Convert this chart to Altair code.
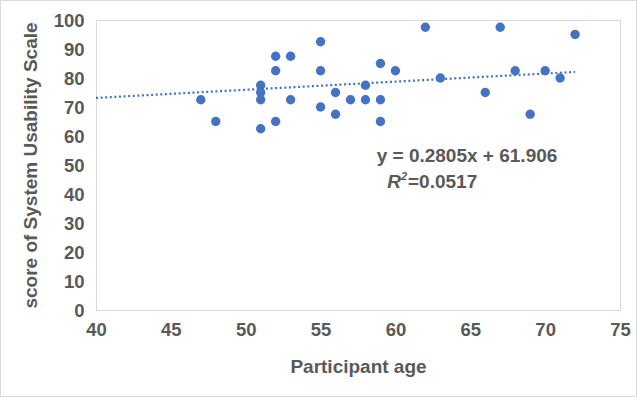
import altair as alt
import pandas as pd

# Participant ages and their System Usability Scale scores
ages = [47, 48, 51, 51, 51, 51, 52, 52, 52, 53, 53, 55, 55, 55, 56, 56,
        57, 58, 58, 59, 59, 59, 60, 62, 63, 66, 67, 68, 69, 70, 71, 72]
scores = [72.5, 65, 77.5, 75, 72.5, 62.5, 87.5, 82.5, 65, 87.5, 72.5, 92.5,
          82.5, 70, 75, 67.5, 72.5, 77.5, 72.5, 85, 72.5, 65, 82.5, 97.5,
          80, 75, 97.5, 82.5, 67.5, 82.5, 80, 95]

# Linear trend line reported on the chart
slope = 0.2805
intercept = 61.906
trend_x = [40, 72]

x_ticks = [40, 45, 50, 55, 60, 65, 70, 75]
y_ticks = [0, 10, 20, 30, 40, 50, 60, 70, 80, 90, 100]

points_df = pd.DataFrame({"age": ages, "score": scores})
trend_df = pd.DataFrame({"age": trend_x})

FONT = "Liberation Sans"
GREY = "#595959"
BLUE = "#4472C4"

x_enc = alt.X(
    "age:Q",
    scale=alt.Scale(domain=[40, 75], nice=False, zero=False),
    axis=alt.Axis(values=x_ticks, title="Participant age", grid=False,
                  ticks=False, domain=False, labelPadding=10,
                  titlePadding=19, labelFlush=False, labelOverlap=False),
)
y_enc = alt.Y(
    "score:Q",
    scale=alt.Scale(domain=[0, 100], nice=False),
    axis=alt.Axis(values=y_ticks, title="score of System Usability Scale",
                  grid=False, ticks=False, domain=False, labelPadding=12,
                  titlePadding=13, labelFlush=False, labelOverlap=False),
)

points = alt.Chart(points_df).mark_circle(
    size=88, color=BLUE, opacity=1
).encode(x=x_enc, y=y_enc)

trend = alt.Chart(trend_df).transform_calculate(
    score=f"{slope} * datum.age + {intercept}"
).mark_line(
    color=BLUE, strokeWidth=2.2, strokeDash=[2, 2.6], strokeCap="butt"
).encode(x=x_enc, y=y_enc)

eq_text = alt.Chart(pd.DataFrame({"t": [f"y = {slope}x + {intercept}"]})).mark_text(
    font=FONT, fontSize=19, fontWeight="bold", color=GREY, align="center",
    baseline="middle"
).encode(x=alt.value(371), y=alt.value(136), text="t:N")

r_text = alt.Chart(pd.DataFrame({"t": ["R"]})).mark_text(
    font=FONT, fontSize=19, fontWeight="bold", fontStyle="italic", color=GREY,
    align="right", baseline="middle"
).encode(x=alt.value(305), y=alt.value(162), text="t:N")

sup_text = alt.Chart(pd.DataFrame({"t": ["2"]})).mark_text(
    font=FONT, fontSize=11, fontWeight="bold", fontStyle="italic", color=GREY,
    align="left", baseline="middle"
).encode(x=alt.value(305), y=alt.value(157), text="t:N")

r2_text = alt.Chart(pd.DataFrame({"t": ["=0.0517"]})).mark_text(
    font=FONT, fontSize=19, fontWeight="bold", color=GREY, align="left",
    baseline="middle"
).encode(x=alt.value(312), y=alt.value(162), text="t:N")

# Light frame around the whole chart
frame = alt.Chart(pd.DataFrame({"k": [0]})).mark_rect(
    fill=None, stroke="#D9D9D9", strokeWidth=1, clip=False
).encode(x=alt.value(-95.5), x2=alt.value(540.5),
         y=alt.value(-19.5), y2=alt.value(376.5))

chart = alt.layer(frame, trend, points, eq_text, r_text, sup_text, r2_text).properties(
    width=524, height=290,
    autosize=alt.AutoSizeParams(type="none"),
    padding={"left": 96, "top": 20, "right": 17, "bottom": 87},
    background="white",
).configure_view(
    stroke="#D9D9D9", strokeWidth=1
).configure_axis(
    labelFont=FONT, labelFontSize=18.5, labelFontWeight="bold", labelColor=GREY,
    titleFont=FONT, titleFontSize=19, titleFontWeight="bold", titleColor=GREY,
)

chart.save("out.html", embed_options={"renderer": "svg", "actions": False})
